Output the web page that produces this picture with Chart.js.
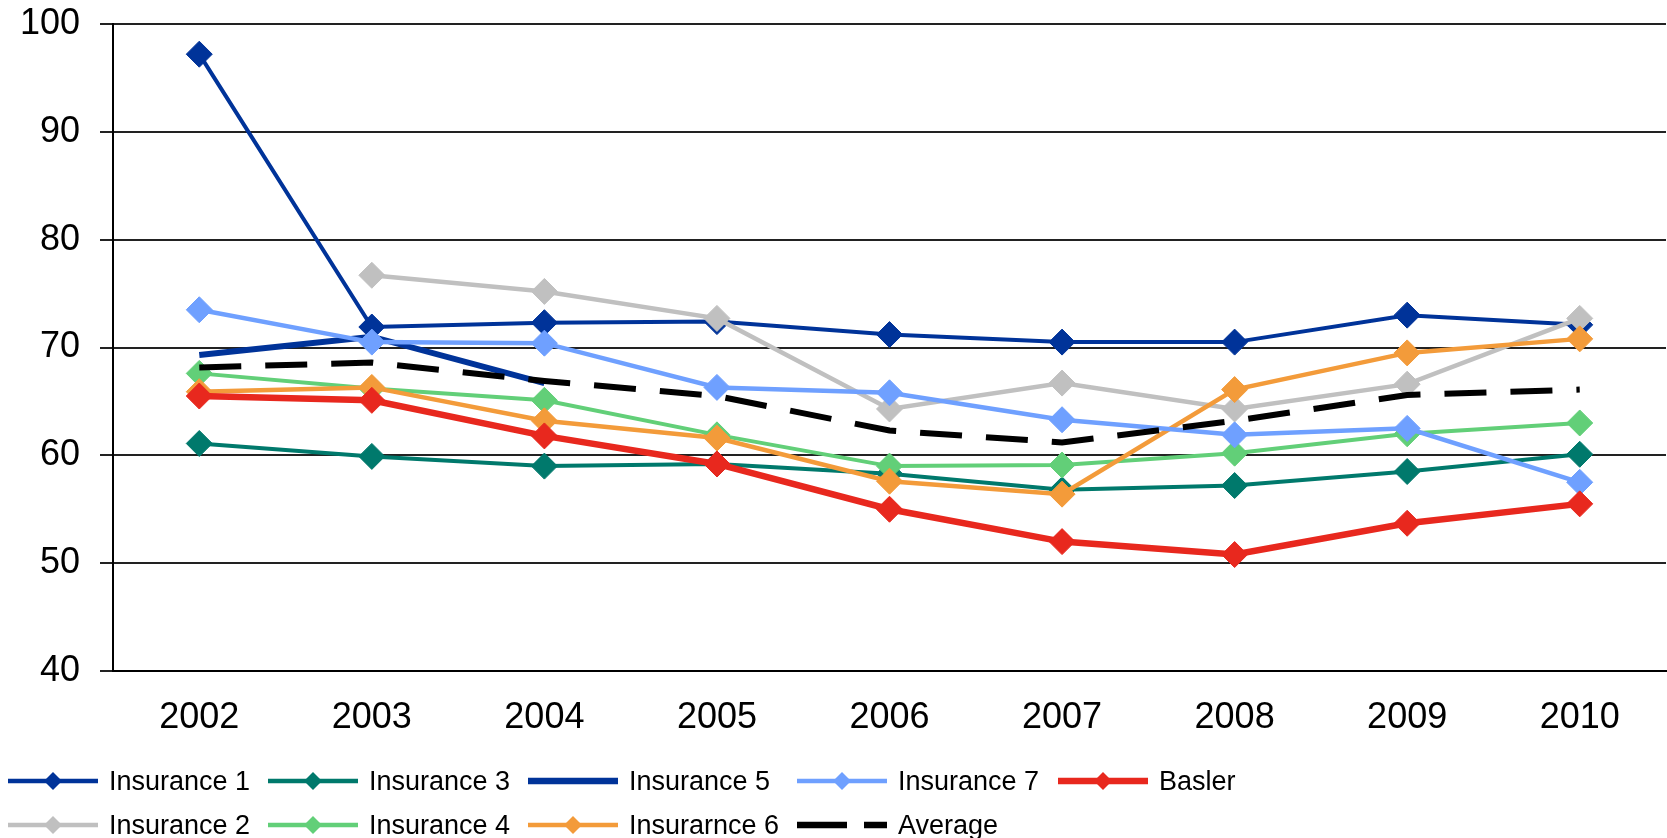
<!DOCTYPE html>
<html>
<head>
<meta charset="utf-8">
<script src="https://cdn.jsdelivr.net/npm/chart.js@4/dist/chart.umd.min.js"></script>
<style>
  body { margin: 0; background: #fff; overflow: hidden; }
  #wrap { position: relative; width: 1667px; height: 838px; overflow: hidden; }
  #legend { position: absolute; left: 0; top: 0; width: 1667px; height: 838px; pointer-events: none;
            font-family: "Liberation Sans", Arial, sans-serif; font-size: 27px; color: #000; }
  .item { position: absolute; height: 30px; display: flex; align-items: center; white-space: nowrap; }
  .item svg { margin-right: 11px; }
</style>
</head>
<body>
<div id="wrap">
  <!-- a little wider than the window so the grid runs to the right edge -->
  <canvas id="lineChart" width="1680" height="838"></canvas>
  <div id="legend"></div>
</div>
<script>
const years = ['2002', '2003', '2004', '2005', '2006', '2007', '2008', '2009', '2010'];

const insurance1 = [97.2, 71.9, 72.3, 72.4, 71.2, 70.5, 70.5, 73.0, 72.1];
const insurance2 = [null, 76.7, 75.2, 72.7, 64.3, 66.7, 64.3, 66.6, 72.7];
const insurance3 = [61.1, 59.9, 59.0, 59.2, 58.3, 56.8, 57.2, 58.5, 60.1];
const insurance4 = [67.6, 66.2, 65.1, 61.9, 59.0, 59.1, 60.2, 62.0, 63.0];
const insurance5 = [69.3, 71.0, 66.7, null, null, null, null, null, null];
const insurance6 = [65.9, 66.3, 63.2, 61.6, 57.6, 56.4, 66.1, 69.5, 70.8];
const insurance7 = [73.5, 70.5, 70.4, 66.3, 65.8, 63.3, 61.9, 62.5, 57.5];
const basler = [65.5, 65.1, 61.8, 59.2, 55.0, 52.0, 50.8, 53.7, 55.5];
const average = [68.15, 68.6, 66.9, 65.5, 62.3, 61.2, 63.2, 65.6, 66.1];

const yTicks = [40, 50, 60, 70, 80, 90, 100];

// series in drawing order (later ones on top)
const series = [
  { label: 'Insurance 1', data: insurance1, color: '#003399', width: 4, marker: true },
  { label: 'Insurance 2', data: insurance2, color: '#C0C0C0', width: 4.5, marker: true },
  { label: 'Insurance 3', data: insurance3, color: '#00796C', width: 4, marker: true },
  { label: 'Insurance 4', data: insurance4, color: '#62CF78', width: 4, marker: true },
  { label: 'Insurance 5', data: insurance5, color: '#003399', width: 6, marker: false },
  { label: 'Insurarnce 6', data: insurance6, color: '#F39B3A', width: 4.5, marker: true },
  { label: 'Insurance 7', data: insurance7, color: '#6FA0FF', width: 4.5, marker: true },
  { label: 'Basler', data: basler, color: '#E8281E', width: 6.5, marker: true },
  { label: 'Average', data: average, color: '#000000', width: 6, marker: false, dash: [42, 24] }
];

// legend grid: [series index, column, row]
const legendSlots = [[0, 0, 0], [2, 1, 0], [4, 2, 0], [6, 3, 0], [7, 4, 0],
                     [1, 0, 1], [3, 1, 1], [5, 2, 1], [8, 3, 1]];
const legendCols = [8, 268, 528, 797, 1058];
const legendRows = [781, 825];

const font = '"Liberation Sans", Arial, sans-serif';

new Chart(document.getElementById('lineChart'), {
  type: 'line',
  data: {
    labels: years,
    datasets: series.map((s, i) => ({
      label: s.label,
      data: s.data,
      borderColor: s.color,
      backgroundColor: s.color,
      borderWidth: s.width,
      borderDash: s.dash || [],
      pointStyle: 'rectRot',
      pointRadius: s.marker ? 13 : 0,
      pointBorderWidth: 1,
      pointBorderColor: s.color,
      pointBackgroundColor: s.color,
      tension: 0,
      fill: false,
      spanGaps: false,
      order: series.length - i
    }))
  },
  options: {
    responsive: false,
    animation: false,
    devicePixelRatio: 1,
    events: [],
    layout: { padding: { top: 24, right: 0, bottom: 97, left: 0 } },
    plugins: { legend: { display: false }, tooltip: { enabled: false } },
    scales: {
      x: {
        offset: true,
        grid: { display: false, drawTicks: false },
        border: { display: true, color: '#000', width: 2 },
        ticks: { color: '#000', font: { family: font, size: 36 }, padding: 25, maxRotation: 0 },
        afterFit: scale => { scale.height = 70; }
      },
      y: {
        min: 40,
        max: 100,
        afterBuildTicks: scale => { scale.ticks = yTicks.map(v => ({ value: v })); },
        grid: { color: '#222', lineWidth: 2, tickLength: 13 },
        border: { display: true, color: '#000', width: 2 },
        ticks: { color: '#000', font: { family: font, size: 36 }, padding: 20 },
        afterFit: scale => {
          scale.width = 113;
          scale.paddingTop = 0;
          scale.paddingBottom = 0;
        }
      }
    }
  }
});

// legend laid out in columns like the original
const legend = document.getElementById('legend');
legendSlots.forEach(([idx, col, row]) => {
  const s = series[idx];
  const lw = s.width < 5 ? 4.5 : 6.5;
  const dash = s.dash ? ' stroke-dasharray="50 17"' : '';
  const diamond = s.marker ? `<polygon points="45,6 54,15 45,24 36,15" fill="${s.color}"/>` : '';
  const item = document.createElement('div');
  item.className = 'item';
  item.style.left = legendCols[col] + 'px';
  item.style.top = (legendRows[row] - 15) + 'px';
  item.innerHTML = `<svg width="90" height="30"><line x1="0" y1="15" x2="90" y2="15" stroke="${s.color}" stroke-width="${lw}"${dash}/>${diamond}</svg><span>${s.label}</span>`;
  legend.appendChild(item);
});
</script>
</body>
</html>
